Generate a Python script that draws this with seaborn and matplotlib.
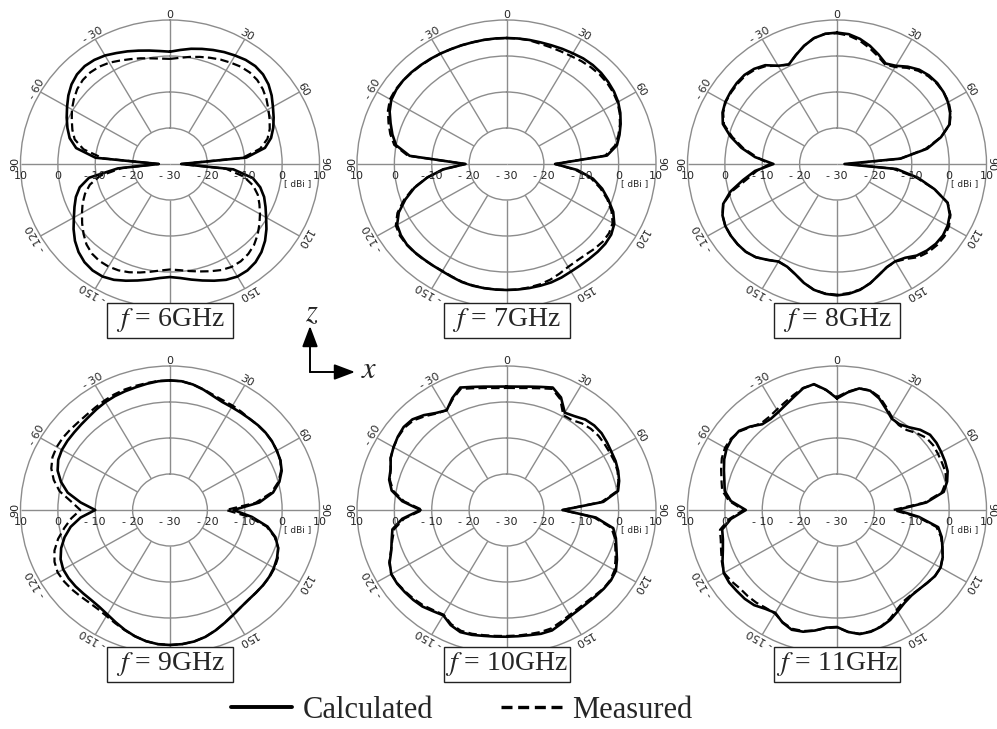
import numpy as np
import pandas as pd
import matplotlib
matplotlib.use("Agg")
import matplotlib.pyplot as plt
from matplotlib.lines import Line2D
from matplotlib.patches import Rectangle, FancyArrowPatch
import seaborn as sns

sns.set_style("white")
plt.rcParams["font.family"] = ["DejaVu Sans"]
plt.rcParams["mathtext.fontset"] = "stix"

freqs = [6, 7, 8, 9, 10, 11]

# angle in degrees, clockwise from +z (top of each chart), read every 5 degrees
angles = list(range(0, 360, 5))

# gain in dBi (rows: 0-40, 45-85, ..., 315-355 deg)
calc_6 = ([1.2, 1.8, 2.5, 3.1, 3.7, 4.3, 4.8, 5.3, 5.5]
          + [5.2, 4.4, 3.2, 1.8, 0.6, -0.6, -2.0, -4.2, -9.5]
          + [-27, -13, -7.5, -5, -3.2, -1.8, -0.3, 1.5, 3.2]
          + [4.6, 5.6, 6.1, 6.1, 5.5, 4.5, 3.5, 2.6, 1.8]
          + [1.4, 1.8, 2.6, 3.5, 4.5, 5.5, 6.1, 6.1, 5.6]
          + [4.6, 3.2, 1.5, -0.3, -1.8, -3.2, -5, -8, -16]
          + [-27, -10, -4.5, -2.2, -0.8, 0.5, 1.8, 3.2, 4.4]
          + [5.2, 5.5, 5.3, 4.8, 4.0, 3.3, 2.6, 2.0, 1.5])
meas_6 = ([-0.8, -0.4, 0.2, 0.8, 1.4, 2.0, 2.5, 3.0, 3.2]
          + [3.0, 2.4, 1.5, 0.4, -0.6, -1.6, -3.0, -5.5, -10.5]
          + [-27, -15, -10, -7, -5, -3.6, -2.2, -0.8, 0.6]
          + [1.8, 2.6, 3.0, 3.0, 2.5, 1.7, 0.9, 0.2, -0.4]
          + [-0.7, -0.3, 0.4, 1.2, 2.0, 2.6, 2.9, 2.9, 2.5]
          + [1.6, 0.2, -1.3, -2.8, -4.2, -5.8, -7.8, -11, -17]
          + [-27, -12, -6.5, -3.6, -2.2, -1.0, 0.3, 1.4, 2.4]
          + [3.0, 3.2, 3.0, 2.5, 1.7, 1.0, 0.4, -0.2, -0.6])

calc_7 = ([5, 5, 5, 5, 5.1, 5.3, 5.5, 5.8, 5.9]
          + [5.8, 5.5, 5.1, 4.5, 3.6, 2.5, 1.3, 0, -3]
          + [-17, -11, -6.5, -3.5, -1, 1.5, 3.3, 4.2, 4.5]
          + [4.5, 4.4, 4.4, 4.5, 4.8, 5, 5, 5, 5]
          + [5, 5, 5, 5, 4.9, 4.6, 4.4, 4.4, 4.5]
          + [4.7, 4.8, 4.5, 3.8, 1.8, -1.2, -4.5, -8.5, -13]
          + [-19, -4, 0, 1.6, 3, 4.5, 5.6, 6.0, 6.1]
          + [6.0, 5.8, 5.6, 5.4, 5.2, 5.1, 5, 5, 5])
meas_7 = ([5, 5, 4.9, 4.6, 4.5, 4.5, 4.6, 4.9, 5.1]
          + [5.2, 5.1, 4.8, 4.3, 3.4, 2.3, 1.0, -0.5, -3.5]
          + [-17, -11.5, -7, -4, -1.3, 1.0, 2.8, 3.5, 3.6]
          + [3.3, 2.9, 2.8, 3.0, 3.6, 4.2, 4.6, 4.8, 5]
          + [5, 5, 5, 4.9, 4.8, 4.5, 4.3, 4.4, 4.6]
          + [4.8, 4.9, 4.8, 4.2, 2.2, -0.8, -4.2, -8.5, -13]
          + [-19, -3.5, 0.5, 2.2, 3.6, 5.0, 6.0, 6.2, 6.1]
          + [5.9, 5.7, 5.5, 5.4, 5.2, 5.1, 5, 5, 5])

calc_8 = ([6.5, 6.2, 5.3, 4.0, 2.4, 0.8, 1.5, 3.0, 4.2]
          + [4.8, 5.0, 4.8, 4.3, 3.4, 2.0, -1.2, -5.5, -13]
          + [-28, -14, -8, -3, 1.5, 3.3, 4.2, 4.6, 4.5]
          + [4.0, 3.2, 1.8, 1.2, 1.6, 2.8, 4.3, 5.5, 6.2]
          + [6.5, 6.2, 5.5, 4.2, 2.6, 1.5, 1.3, 2.5, 3.8]
          + [4.5, 4.7, 4.7, 4.5, 3.8, 2.4, -0.5, -4.5, -8]
          + [-13, -8, -4, -0.5, 2.5, 3.8, 4.5, 4.8, 5.0]
          + [5.0, 4.5, 3.5, 1.5, 0.5, 2.2, 4.0, 5.5, 6.3])
meas_8 = ([6.3, 5.8, 4.8, 3.4, 1.9, 0.5, 1.1, 2.6, 3.8]
          + [4.5, 4.8, 4.8, 4.5, 3.6, 2.1, -1.2, -6, -13]
          + [-27, -15, -8.5, -3, 1.5, 3.5, 4.6, 5.1, 5.0]
          + [4.6, 3.8, 2.2, 1.3, 1.6, 2.8, 4.3, 5.4, 6.0]
          + [6.3, 6.1, 5.5, 4.2, 2.6, 1.5, 1.3, 2.5, 3.8]
          + [4.5, 4.7, 4.7, 4.5, 3.8, 2.4, -1, -5.5, -8.5]
          + [-12, -8.5, -4.5, -1, 2.2, 3.6, 4.4, 4.6, 4.7]
          + [4.7, 4.2, 3.2, 1.5, 0.5, 2.2, 4.0, 5.5, 6.3])

calc_9 = ([6, 5.9, 5.4, 4.6, 3.7, 3.1, 3, 3, 3.1]
          + [3.3, 3.4, 3.3, 3, 2.6, 1.8, 0.3, -2, -6]
          + [-13, -8, -3.5, -0.8, 0.8, 1.6, 2.1, 2.4, 2.5]
          + [2.5, 2.6, 3.0, 3.7, 4.6, 5.6, 6.5, 7.1, 7.4]
          + [7.5, 7.4, 7.0, 6.3, 5.4, 4.4, 3.5, 2.9, 2.7]
          + [2.8, 3.0, 3.1, 3.0, 2.3, 1.0, -0.8, -3, -6]
          + [-10, -6, -2.2, 0.2, 2.0, 3.0, 3.4, 3.5, 3.5]
          + [3.6, 3.8, 4.2, 4.6, 4.9, 5.1, 5.3, 5.6, 5.9])
meas_9 = ([6, 5.9, 5.4, 4.7, 4.0, 3.6, 3.5, 3.3, 3.1]
          + [3.3, 3.4, 3.3, 3, 2.6, 1.6, 0, -2.5, -7]
          + [-15, -9, -3.8, -1, 0.8, 1.8, 2.3, 2.5, 2.5]
          + [2.5, 2.6, 3.0, 3.7, 4.6, 5.6, 6.5, 7.1, 7.4]
          + [7.5, 7.4, 7.0, 6.3, 5.5, 4.7, 4.0, 3.6, 3.6]
          + [3.9, 4.3, 4.6, 4.7, 4.1, 2.9, 1.0, -1.3, -3.5]
          + [-6, -3.5, 0, 2.2, 3.8, 4.7, 5.0, 5.0, 4.8]
          + [4.6, 4.6, 4.8, 5.1, 5.4, 5.6, 5.7, 5.8, 6.0])

calc_10 = ([4.3, 4.4, 4.8, 5.4, 6.2, 4.5, 1.2, 1.8, 2.8]
           + [3.2, 3.2, 2.8, 2.4, 2.2, 1.8, 1.2, 0.3, -4]
           + [-15, -6, -1, 0.3, 1.3, 2.6, 3.8, 4.1, 4.0]
           + [3.8, 3.7, 3.8, 4.1, 4.8, 5.6, 5.6, 5.3, 5.2]
           + [5.2, 5.3, 5.5, 5.9, 6.1, 5.3, 3.8, 4.3, 5.0]
           + [5.3, 5.5, 5.7, 5.6, 4.5, 2.8, 1.8, 1, -2]
           + [-7, -2, 1.2, 2.5, 3.0, 4.2, 4.9, 5.5, 5.9]
           + [5.6, 4.4, 2.9, 2.0, 4.3, 6.2, 5.4, 4.8, 4.4])
meas_10 = ([3.9, 4.0, 4.4, 5.0, 5.8, 4.0, 0.4, 0.5, 1.4]
           + [1.9, 2.1, 2.0, 1.9, 1.9, 1.6, 1.0, 0, -4.5]
           + [-15, -6.5, -1.5, 0, 1.0, 2.2, 3.4, 3.9, 3.9]
           + [3.5, 3.3, 3.4, 3.7, 4.3, 5.0, 5.1, 5.0, 5.0]
           + [5.0, 5.1, 5.3, 5.6, 5.7, 5.0, 3.6, 4.0, 4.6]
           + [5.0, 5.3, 5.6, 5.6, 4.6, 2.9, 1.6, 0.5, -2.5]
           + [-7.5, -2.5, 0.8, 2.3, 3.0, 4.2, 4.9, 5.4, 5.6]
           + [5.2, 4.0, 2.7, 2.0, 4.0, 5.8, 5.0, 4.4, 4.0])

calc_11 = ([1, 2.8, 4.3, 4.3, 3, 1, -0.7, -0.9, 0]
           + [1.5, 2.5, 2.5, 2.2, 1.9, 1.5, 0.5, -1, -6]
           + [-14, -8, -2.5, -1, 0, 1.2, 2, 2, 1.5]
           + [1.1, 1, 1.5, 2.5, 3.7, 4.5, 5.0, 5, 4]
           + [2.5, 2.8, 4, 5, 5.4, 4.5, 3, 3.5, 4.5]
           + [4.9, 5, 5.2, 5, 3.8, 2.5, 1.6, 1.2, -1.5]
           + [-5.6, -1.5, 0.5, 1.2, 2.2, 3.3, 4.1, 4.4, 4.2]
           + [2.8, 1.1, 0.9, 1.4, 2.3, 3.5, 5, 5.5, 3.5])
meas_11 = ([1.4, 3.0, 4.3, 4.4, 3.4, 1.4, -0.4, -1.2, -1.0]
           + [0.2, 1.2, 1.4, 1.2, 1.0, 0.9, 0.2, -1.5, -6.5]
           + [-15, -8.5, -3, -1.2, 0, 1.2, 2, 2, 1.5]
           + [1.1, 0.8, 1.0, 2.0, 3.4, 4.4, 4.9, 4.9, 4]
           + [2.6, 2.9, 4, 4.8, 5.1, 4.4, 3.2, 3.2, 3.6]
           + [3.8, 3.9, 4.5, 4.9, 4.0, 3.0, 2.2, 1.8, -1.0]
           + [-5, -1, 1.2, 2.0, 3.0, 4.0, 4.6, 4.6, 4.0]
           + [2.6, 1.5, 1.6, 2.2, 3.0, 4.0, 5.1, 5.4, 3.4])

calculated = {6: calc_6, 7: calc_7, 8: calc_8, 9: calc_9, 10: calc_10, 11: calc_11}
measured = {6: meas_6, 7: meas_7, 8: meas_8, 9: meas_9, 10: meas_10, 11: meas_11}

rows = []
for f in freqs:
    for name, vals in (("Calculated", calculated[f]), ("Measured", measured[f])):
        for a, v in zip(angles + [360], vals + vals[:1]):
            rows.append({"freq": f, "series": name, "theta": np.radians(a), "gain": v})
df = pd.DataFrame(rows)

W, H = 997, 729
fig = plt.figure(figsize=(W / 100, H / 100), dpi=100)

centers = [(170, 164), (506.5, 164), (837, 164), (170, 510), (506.5, 510), (837, 510)]
box_y = [320, 320, 320, 664, 664, 664]
rx, ry = 149.5, 144
grey = "#8c8c8c"

angle_labels = [(0, "0"), (30, "30"), (60, "60"), (90, "90"), (120, "120"), (150, "150"),
                (210, "- 150"), (240, "- 120"), (270, "90"), (300, "- 60"), (330, "- 30")]
radial_labels = [(10, "10"), (0, "0"), (-10, "- 10"), (-20, "- 20")]

for f, (cx, cy), by in zip(freqs, centers, box_y):
    ax = fig.add_axes([(cx - rx) / W, 1 - (cy + ry) / H, 2 * rx / W, 2 * ry / H],
                      projection="polar")
    ax.set_aspect("auto")
    ax.set_theta_zero_location("N")
    ax.set_theta_direction(-1)

    sns.lineplot(data=df[df.freq == f], x="theta", y="gain", hue="series",
                 style="series", size="series",
                 palette={"Calculated": "black", "Measured": "black"},
                 dashes={"Calculated": "", "Measured": (3.8, 1.9)},
                 sizes={"Calculated": 1.9, "Measured": 1.6},
                 sort=False, estimator=None, legend=False, ax=ax, zorder=3)
    for ln in ax.lines:
        ln.set_solid_joinstyle("round")

    ax.set_xlim(0, 2 * np.pi)
    ax.set_ylim(-30, 10)
    ax.set_xlabel("")
    ax.set_ylabel("")
    ax.set_xticks([])
    ax.set_yticks([-20, -10, 0])
    ax.set_yticklabels([])
    ax.yaxis.grid(True, color=grey, lw=1)
    ax.xaxis.grid(False)
    ax.spines["polar"].set_color(grey)
    ax.spines["polar"].set_linewidth(1)

    # spokes start at the inner ring, the horizontal axis runs through
    ax.vlines(np.radians([0, 30, 60, 120, 150, 180, 210, 240, 300, 330]), -20, 10,
              color=grey, lw=1, zorder=1)
    ax.vlines(np.radians([90, 270]), -30, 10, color=grey, lw=1, zorder=1)

    for deg, txt in angle_labels:
        rot = -deg if deg <= 180 else 360 - deg
        ax.text(np.radians(deg), 11.3, txt, rotation=rot, rotation_mode="anchor",
                ha="center", va="center", fontsize=8)

    for r, txt in radial_labels:
        for th in (np.pi / 2, 3 * np.pi / 2):
            ax.annotate(txt, xy=(th, r), xytext=(0, -8.5), textcoords="offset points",
                        ha="center", va="center", fontsize=8)
    ax.annotate("- 30", xy=(0, -30), xytext=(0, -8.5), textcoords="offset points",
                ha="center", va="center", fontsize=8)
    ax.text(0.5 + 128 / (2 * rx), 0.5 - 20 / (2 * ry), "[ dBi ]", transform=ax.transAxes,
            ha="center", va="center", fontsize=6.5)

    fig.add_artist(Rectangle(((cx - 63) / W, 1 - (by + 17.5) / H), 126 / W, 35 / H,
                             transform=fig.transFigure, facecolor="white",
                             edgecolor="#222222", lw=1, zorder=5))
    fig.text(cx / W, 1 - by / H, r"$f$ = %dGHz" % f, ha="center", va="center",
             fontsize=20, family="Liberation Serif", zorder=6)

# coordinate system sketch
for end in ((310, 326), (355, 372)):
    fig.add_artist(FancyArrowPatch((310 / W, 1 - 372 / H), (end[0] / W, 1 - end[1] / H),
                                   transform=fig.transFigure,
                                   arrowstyle="-|>,head_length=0.45,head_width=0.17",
                                   mutation_scale=28, lw=1.4, color="black",
                                   shrinkA=0, shrinkB=0))
fig.text(312 / W, 1 - 313 / H, "$z$", fontsize=22, ha="center", va="center")
fig.text(369 / W, 1 - 369 / H, "$x$", fontsize=22, ha="center", va="center")

handles = [Line2D([], [], color="black", lw=2.8),
           Line2D([], [], color="black", lw=2.4, ls=(0, (3.3, 1.7)))]
fig.legend(handles, ["Calculated", "Measured"], loc="center",
           bbox_to_anchor=(462 / W, 1 - 710 / H), ncol=2, frameon=False,
           prop={"family": "Liberation Serif", "size": 22},
           handlelength=2.0, handletextpad=0.35, columnspacing=2.2)

fig.savefig("out.png", dpi=100)
